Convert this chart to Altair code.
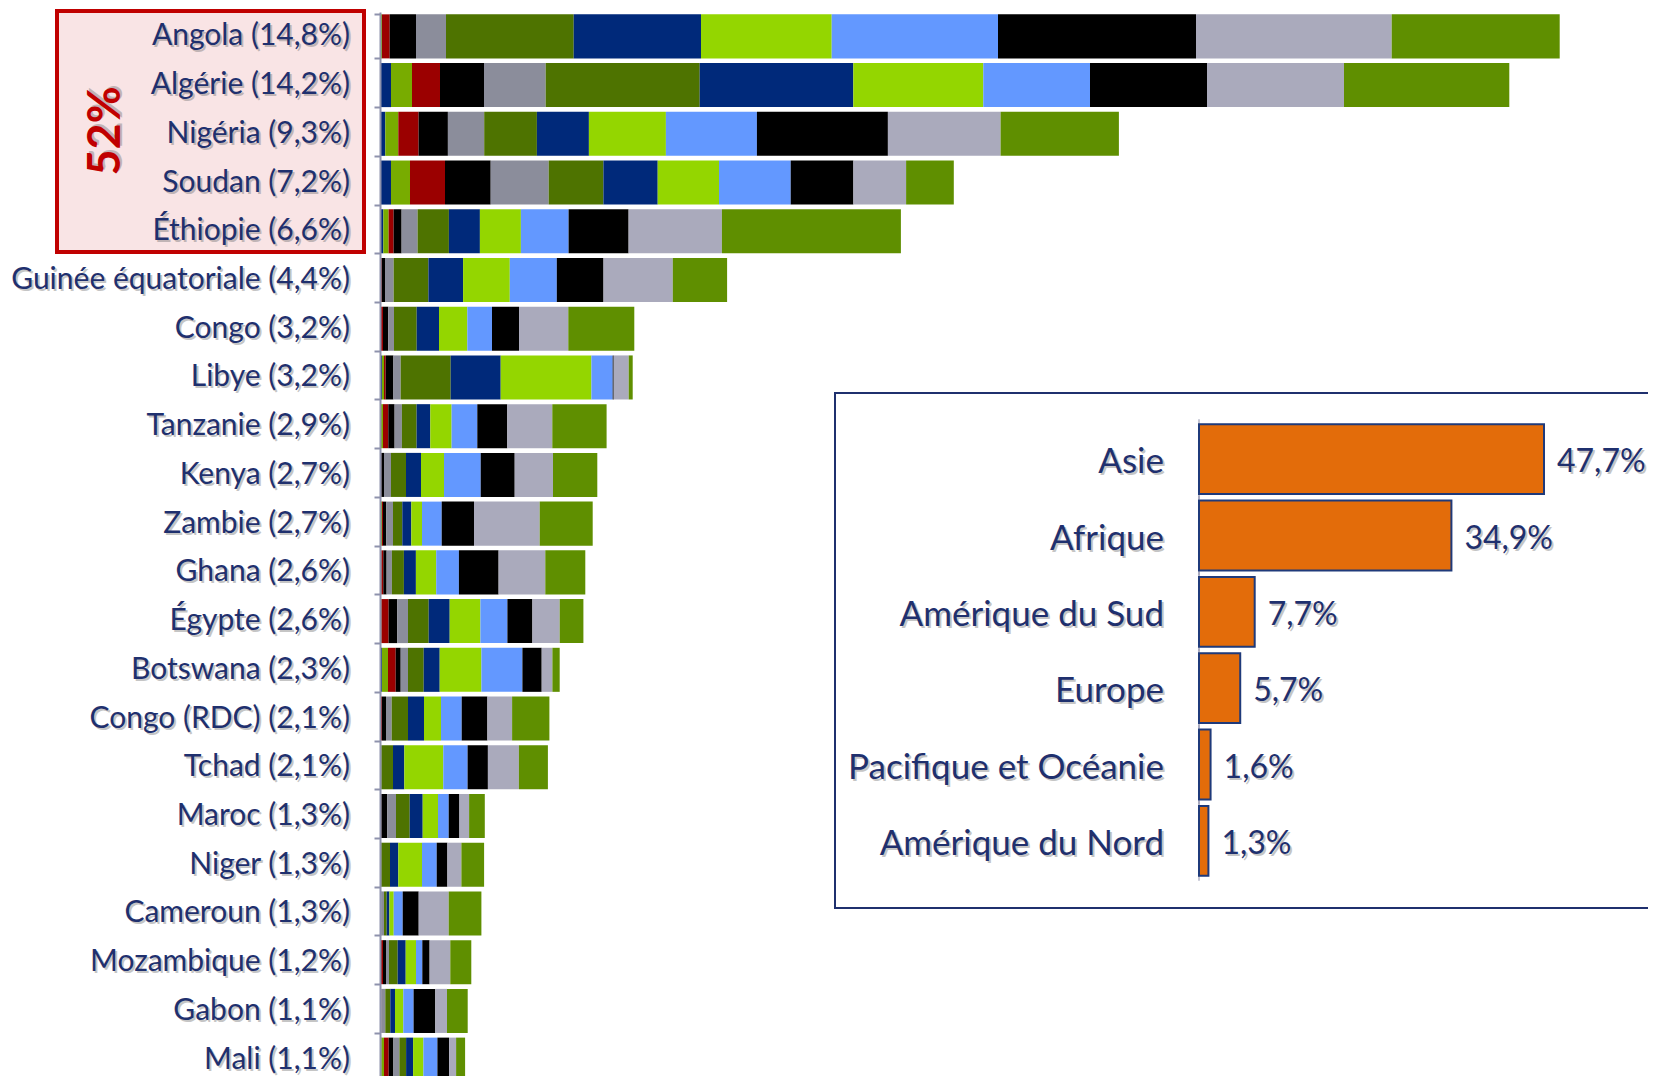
import altair as alt
import pandas as pd

# ---------------- main chart data ----------------
countries = ["Angola", "Algérie", "Nigéria", "Soudan", "Éthiopie", "Guinée équatoriale",
             "Congo", "Libye", "Tanzanie", "Kenya", "Zambie", "Ghana", "Égypte",
             "Botswana", "Congo (RDC)", "Tchad", "Maroc", "Niger", "Cameroun",
             "Mozambique", "Gabon", "Mali"]
shares = ["14,8", "14,2", "9,3", "7,2", "6,6", "4,4", "3,2", "3,2", "2,9", "2,7", "2,7",
          "2,6", "2,6", "2,3", "2,1", "2,1", "1,3", "1,3", "1,3", "1,2", "1,1", "1,1"]

segments = ["T01", "T02", "T03", "T04", "T05", "T06", "T07", "T08", "T09", "T10", "T11", "T12"]
seg_colors = ["#00287A", "#78AC00", "#9B0000", "#000000", "#8B8D9B", "#4E7300",
              "#00297A", "#94D600", "#6398FF", "#000000", "#AAAABC", "#5F8F00"]

# segment lengths (relative units), 12 segments per country
angola = [0, 2, 7.7, 26.3, 30, 127.7, 127.3, 130.7, 166.3, 198, 195.7, 168]
algerie = [11, 21, 28, 44, 61.7, 154, 153.6, 130, 106.7, 117, 137, 165.3]
nigeria = [5.3, 13, 20.3, 29.3, 36.3, 52.7, 52, 77, 91, 131, 112.7, 118.3]
soudan = [11, 19, 35, 45.7, 58, 54.7, 54.3, 61.3, 71.7, 62.7, 52.7, 47.7]
ethiopie = [3.3, 5.3, 5, 8, 16, 31.3, 31, 41, 47.7, 60, 93.3, 179]
guinee = [0, 0, 1.7, 3.3, 8.7, 34.7, 34.7, 46.7, 47, 46.7, 69.3, 54.3]
congo = [0, 0, 3, 5.3, 5.7, 22.7, 22.3, 28.3, 24.7, 27, 49.3, 66]
libye = [2, 2, 1.7, 7.7, 7.3, 50, 50, 90.7, 21.3, 1, 15, 4]
tanzanie = [0, 3, 5.3, 6.3, 7.3, 14.7, 13.7, 21.3, 25.7, 30, 45, 54.3]
kenya = [0, 0, 1.3, 2.7, 7, 15, 15, 23, 36.7, 34, 38.3, 44.3]
zambie = [0, 2, 1, 3.3, 6.7, 9.3, 9, 10.7, 19.7, 32.3, 65.7, 53]
ghana = [0, 1.3, 2, 3.3, 5.3, 12, 12, 20.3, 22.7, 39.7, 46.7, 40]
egypte = [0, 1.3, 7.3, 8.7, 10.7, 20.7, 21, 30.7, 27, 25, 27.3, 23.7]
botswana = [2, 6, 7.7, 5, 7.3, 15.7, 16, 41.7, 41, 19.3, 10.7, 7.3]
congo_rdc = [0, 0, 2, 4, 5.7, 16.3, 16, 17, 20.7, 25.7, 24.7, 37.3]
tchad = [0, 0, 0, 0, 1.3, 11.7, 11.3, 39, 24.3, 20.3, 31, 29]
maroc = [0, 0, 1.3, 6, 8.7, 13.7, 13, 15.3, 10.7, 10.7, 9.7, 15.7]
niger = [0, 0, 0, 1.3, 0, 8.7, 8.3, 23.7, 14.7, 10.7, 14, 22.7]
cameroun = [0, 0, 0, 1.3, 2.7, 2.7, 2.7, 4.3, 9, 16, 30, 32.7]
mozambique = [0, 0, 3, 3, 3, 8.7, 8, 10.3, 6.3, 7.3, 20.7, 21]
gabon = [0, 0, 1.3, 0, 4, 5, 4.7, 8.3, 10.3, 21.7, 11.7, 20.7]
mali = [1.3, 2.7, 4.7, 4.7, 6, 6.7, 7, 10.3, 14, 11.7, 7, 9]

series = [angola, algerie, nigeria, soudan, ethiopie, guinee, congo, libye, tanzanie,
          kenya, zambie, ghana, egypte, botswana, congo_rdc, tchad, maroc, niger,
          cameroun, mozambique, gabon, mali]

# ---------------- inset data ----------------
regions = ["Asie", "Afrique", "Amérique du Sud", "Europe", "Pacifique et Océanie", "Amérique du Nord"]
region_shares = [47.7, 34.9, 7.7, 5.7, 1.6, 1.3]
region_texts = ["47,7%", "34,9%", "7,7%", "5,7%", "1,6%", "1,3%"]

# ---------------- tables ----------------
rows = []
for c, vals in zip(countries, series):
    for j, (s, v) in enumerate(zip(segments, vals)):
        rows.append({"country": c, "seg": s, "idx": j, "val": v})
df_bars = pd.DataFrame(rows)
df_labels = pd.DataFrame({"country": countries,
                          "label": [f"{c} ({s}%)" for c, s in zip(countries, shares)]})
df_reg = pd.DataFrame({"region": regions, "share": region_shares, "txt": region_texts,
                       "zero": [0] * len(regions)})
one = pd.DataFrame({"k": [0]})

FONT = "Lato"
NAVY = "#1F306E"
SHADOW = "#6F6F6F"
SH_OP = 0.4
AXC = "#8E92AC"

main_scale_y = alt.Scale(domain=countries, range=[0, 1072],
                         paddingInner=0.096, paddingOuter=0.048)
y_axis = alt.Y("country:N", scale=main_scale_y,
               axis=alt.Axis(title=None, labels=False, domainColor=AXC,
                             domainWidth=2, tickColor=AXC, tickWidth=2,
                             tickSize=6, tickBand="extent", zindex=1))
y_main = alt.Y("country:N", scale=main_scale_y, axis=None)
main_x = alt.X("val:Q", stack="zero",
               scale=alt.Scale(domain=[0, 1268], nice=False, zero=True), axis=None)

red_box = alt.Chart(one).mark_rect(fill="#F9E4E5", stroke="#C00000", strokeWidth=4).encode(
    x=alt.value(-323), x2=alt.value(-16), y=alt.value(-1), y2=alt.value(240))

bars = alt.Chart(df_bars).mark_bar().encode(
    x=main_x, y=y_axis,
    color=alt.Color("seg:N", scale=alt.Scale(domain=segments, range=seg_colors), legend=None),
    order=alt.Order("idx:Q", sort="ascending"))

lab_shadow = alt.Chart(df_labels).mark_text(
    align="right", baseline="middle", font=FONT, fontSize=30, color=SHADOW,
    opacity=SH_OP, dx=2, dy=2).encode(x=alt.value(-30), y=y_main, text="label:N")
labels = alt.Chart(df_labels).mark_text(
    align="right", baseline="middle", font=FONT, fontSize=30, color=NAVY).encode(
    x=alt.value(-30), y=y_main, text="label:N")

t52_shadow = alt.Chart(one).mark_text(
    text="52%", angle=270, align="center", baseline="middle", font=FONT,
    fontSize=45, fontWeight="bold", color=SHADOW, opacity=SH_OP, dx=2, dy=2).encode(
    x=alt.value(-274), y=alt.value(119))
t52 = alt.Chart(one).mark_text(
    text="52%", angle=270, align="center", baseline="middle", font=FONT,
    fontSize=45, fontWeight="bold", color="#C00000").encode(
    x=alt.value(-274), y=alt.value(119))

# ---------------- inset ----------------
ins_scale_y = alt.Scale(domain=regions, range=[409, 867],
                        paddingInner=0.085, paddingOuter=0.0425)
ins_scale_x = alt.Scale(domain=[0, 47.7], range=[819, 1164], nice=False, zero=True)
ins_y = alt.Y("region:N", scale=ins_scale_y, axis=None)
ins_x = alt.X("share:Q", scale=ins_scale_x, axis=None)
ins_x0 = alt.X("zero:Q", scale=ins_scale_x, axis=None)

ins_box = alt.Chart(one).mark_rect(fill="white", stroke="#1F306E", strokeWidth=2).encode(
    x=alt.value(455), x2=alt.value(1300), y=alt.value(381), y2=alt.value(896))
ins_bars = alt.Chart(df_reg).mark_bar(color="#E36C0A", stroke="#1F3A7A", strokeWidth=2).encode(
    x=ins_x, y=ins_y)
ins_axis = alt.Chart(df_reg).mark_tick(color=AXC, thickness=1.5, size=80).encode(
    x=ins_x0, y=ins_y)

ins_lab_sh = alt.Chart(df_reg).mark_text(
    align="right", baseline="middle", font=FONT, fontSize=35, color=SHADOW,
    opacity=SH_OP, dx=-33, dy=5).encode(x=ins_x0, y=ins_y, text="region:N")
ins_lab = alt.Chart(df_reg).mark_text(
    align="right", baseline="middle", font=FONT, fontSize=35, color=NAVY,
    dx=-35, dy=3).encode(x=ins_x0, y=ins_y, text="region:N")
ins_val_sh = alt.Chart(df_reg).mark_text(
    align="left", baseline="middle", font=FONT, fontSize=32, color=SHADOW,
    opacity=SH_OP, dx=15, dy=5).encode(x=ins_x, y=ins_y, text="txt:N")
ins_val = alt.Chart(df_reg).mark_text(
    align="left", baseline="middle", font=FONT, fontSize=32, color=NAVY,
    dx=13, dy=3).encode(x=ins_x, y=ins_y, text="txt:N")

chart = alt.layer(
    red_box, bars, lab_shadow, labels, t52_shadow, t52,
    ins_box, ins_axis, ins_bars, ins_lab_sh, ins_lab, ins_val_sh, ins_val
).resolve_scale(
    x="independent", y="independent"
).properties(
    width=1268, height=1064,
    padding={"left": 372, "top": 4, "right": 0, "bottom": 0},
    autosize=alt.AutoSizeParams(type="none"),
).configure_view(strokeWidth=0)

chart.save("out.html", embed_options={"renderer": "svg", "actions": False})
